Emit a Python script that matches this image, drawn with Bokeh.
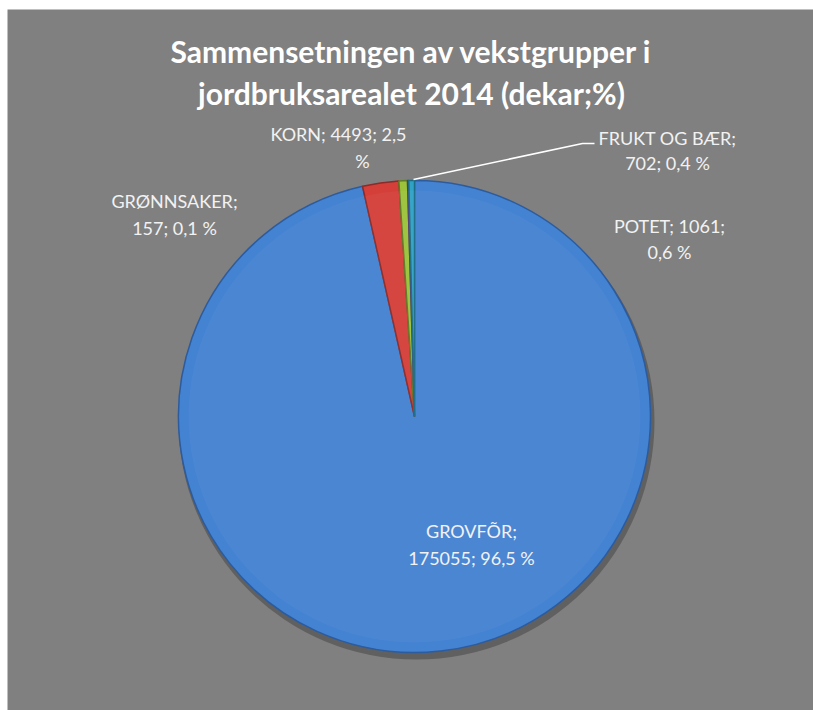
import math
from bokeh.plotting import figure
from bokeh.models import Range1d, ColumnDataSource
from bokeh.core.properties import value
from bokeh.embed import file_html
from bokeh.resources import INLINE

# ---- data (clockwise from 12 o'clock) ----
categories = ["GROVFÕR", "KORN", "POTET", "GRØNNSAKER", "FRUKT OG BÆR"]
dekar = [175055, 4493, 1061, 157, 702]
percent_labels = ["96,5 %", "2,5 %", "0,6 %", "0,1 %", "0,4 %"]
title_lines = ["Sammensetningen av vekstgrupper i", "jordbruksarealet 2014 (dekar;%)"]

# ---- styles ----
colors = ["#4482D2", "#D43F3A", "#9BC23A", "#7E62A8", "#2FA2C6"]
edges = ["#2C5C9E", "#8E2A27", "#5E7A22", "#503D70", "#1C6C86"]
W, H = 813, 710
LEFT, TOP = 7, 9
BG = "#808080"

def Y(py):
    return H - py

p = figure(width=W, height=H, output_backend="svg", toolbar_location=None,
           x_range=Range1d(LEFT, W), y_range=Range1d(0, H - TOP),
           min_border_left=LEFT, min_border_top=TOP, min_border_right=0,
           min_border_bottom=0, background_fill_color=BG,
           border_fill_color="white", outline_line_color=None)
p.axis.visible = False
p.grid.visible = False

cx, cy, r = 414, Y(416), 236

# shadow
p.circle(x=[cx + 2], y=[cy - 5], radius=r + 2, fill_color="black", fill_alpha=0.25,
         line_color=None)

total = sum(dekar)
starts, ends = [], []
cum = 0.0
for v in dekar:
    a0 = math.pi / 2 - 2 * math.pi * cum / total
    cum += v
    a1 = math.pi / 2 - 2 * math.pi * cum / total
    starts.append(a0)
    ends.append(a1)

src = ColumnDataSource(dict(start=starts, end=ends, fill=colors, edge=edges))
p.wedge(x=cx, y=cy, radius=r, start_angle="start", end_angle="end", direction="clock",
        fill_color="fill", line_color="edge", line_width=1.5, source=src)
# subtle inner highlight
p.wedge(x=cx, y=cy, radius=r - 10, start_angle="start", end_angle="end", direction="clock",
        fill_color="white", fill_alpha=0.04, line_color=None, source=src)

# title
for i, line in enumerate(title_lines):
    p.text(x=[411], y=[Y(50 + 42 * i)], text=[line], text_align="center",
           text_baseline="middle", text_font=value("Lato"), text_font_style="bold",
           text_font_size="30px", text_color="white")

# data labels: (category index, line positions)
label_pos = {
    0: [(471, 530), (471, 557)],
    1: [(338, 133), (362, 160)],
    2: [(669, 225), (669, 251)],
    3: [(174, 200), (174, 227)],
    4: [(667, 137), (667, 162)],
}
for i, cat in enumerate(categories):
    if i == 1:
        num, pct = percent_labels[i].split(" ")
        lines = [f"{cat}; {dekar[i]}; {num}", pct]
    elif i == 2:
        lines = [f"{cat}; {dekar[i]};", percent_labels[i]]
    else:
        lines = [f"{cat};", f"{dekar[i]}; {percent_labels[i]}"]
    for (lx, ly), t in zip(label_pos[i], lines):
        p.text(x=[lx], y=[Y(ly)], text=[t], text_align="center", text_baseline="middle",
               text_font=value("Lato"), text_font_size="18px", text_color="#F2F2F2")

# leader line for FRUKT OG BÆR
p.line(x=[413, 582, 594], y=[Y(179), Y(143), Y(143)], line_color="white", line_width=1.5)

open("out.html", "w").write(file_html(p, INLINE))
